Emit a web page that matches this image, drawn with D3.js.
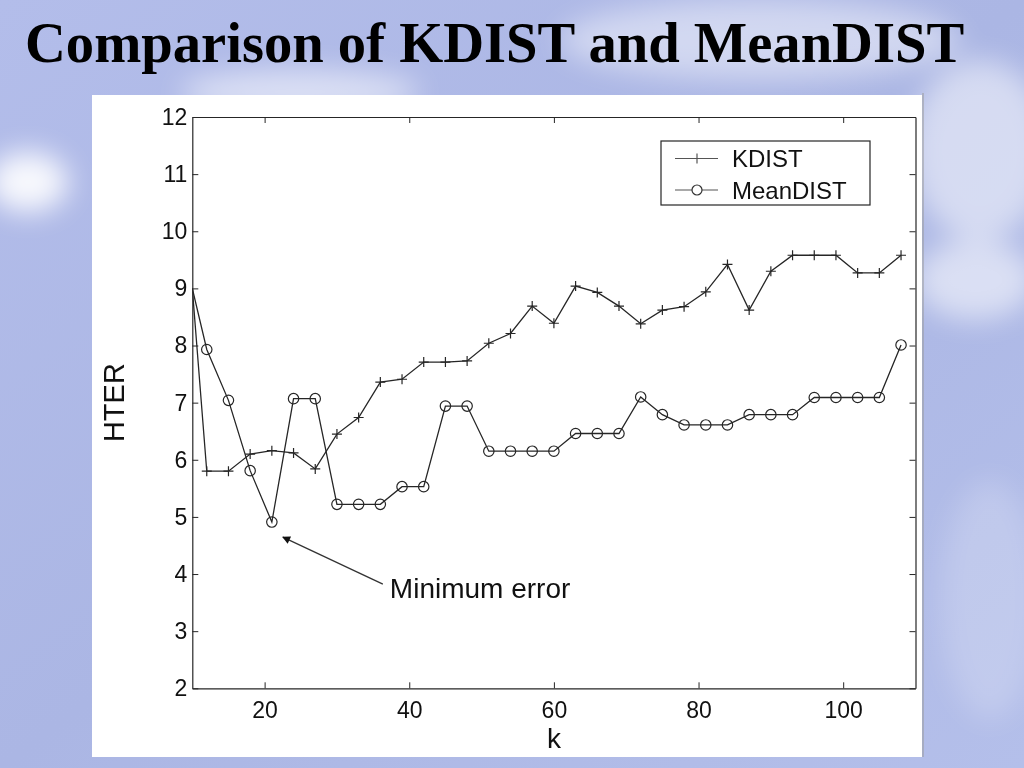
<!DOCTYPE html>
<html>
<head>
<meta charset="utf-8">
<script src="https://cdn.jsdelivr.net/npm/d3@7"></script>
<style>
  body { margin: 0; background: #aeb9e6; }
  svg { display: block; }
</style>
</head>
<body>
<div id="chart"></div>
<script>
// values
var kValues = [10, 12, 15, 18, 21, 24, 27, 30, 33, 36, 39, 42, 45, 48, 51, 54, 57,
    60, 63, 66, 69, 72, 75, 78, 81, 84, 87, 90, 93, 96, 99, 102, 105, 108];
var kdist = [9.0, 5.80, 5.80, 6.10, 6.16, 6.12, 5.84, 6.45, 6.74, 7.36, 7.41, 7.71, 7.71,
    7.73, 8.04, 8.21, 8.69, 8.39, 9.04, 8.93, 8.69, 8.38, 8.62, 8.68, 8.94, 9.42, 8.62,
    9.30, 9.58, 9.58, 9.58, 9.27, 9.27, 9.58];
var meandist = [9.0, 7.93, 7.04, 5.81, 4.91, 7.07, 7.07, 5.22, 5.22, 5.22, 5.53, 5.53,
    6.94, 6.94, 6.15, 6.15, 6.15, 6.15, 6.46, 6.46, 6.46, 7.10, 6.79, 6.61, 6.61, 6.61,
    6.79, 6.79, 6.79, 7.09, 7.09, 7.09, 7.09, 8.01];
var seriesNames = ["KDIST", "MeanDIST"];
var xTicks = [20, 40, 60, 80, 100];
var yTicks = [2, 3, 4, 5, 6, 7, 8, 9, 10, 11, 12];
var titleText = "Comparison of KDIST and MeanDIST";
var noteText = "Minimum error";

var W = 1024, H = 768;
var plotLeft = 192.3, plotRight = 915.5, plotTop = 117, plotBottom = 688.3;
var sans = "'Liberation Sans', Arial, Helvetica, sans-serif";
var ink = "#262626";

var svg = d3.select("#chart").append("svg")
    .attr("width", W)
    .attr("height", H);

var defs = svg.append("defs");

// sky background
var sky = defs.append("linearGradient").attr("id", "sky")
    .attr("x1", 0).attr("y1", 0).attr("x2", 1).attr("y2", 1);
sky.append("stop").attr("offset", "0%").attr("stop-color", "#b3bdea");
sky.append("stop").attr("offset", "50%").attr("stop-color", "#abb6e4");
sky.append("stop").attr("offset", "100%").attr("stop-color", "#b4bfea");
svg.append("rect").attr("width", W).attr("height", H).attr("fill", "url(#sky)");

defs.append("filter").attr("id", "soft")
    .attr("x", "-50%").attr("y", "-50%").attr("width", "200%").attr("height", "200%")
    .append("feGaussianBlur").attr("stdDeviation", 14);

var clouds = [
    {cx: 28, cy: 182, rx: 40, ry: 30, o: 0.9},
    {cx: 300, cy: 92, rx: 120, ry: 22, o: 0.55},
    {cx: 760, cy: 40, rx: 200, ry: 40, o: 0.45},
    {cx: 980, cy: 150, rx: 70, ry: 90, o: 0.5},
    {cx: 975, cy: 280, rx: 60, ry: 40, o: 0.55},
    {cx: 990, cy: 600, rx: 50, ry: 120, o: 0.2}
];
svg.append("g").attr("filter", "url(#soft)")
    .selectAll("ellipse").data(clouds).enter().append("ellipse")
    .attr("cx", function(d) { return d.cx; })
    .attr("cy", function(d) { return d.cy; })
    .attr("rx", function(d) { return d.rx; })
    .attr("ry", function(d) { return d.ry; })
    .attr("fill", "#ffffff")
    .attr("opacity", function(d) { return d.o; });

// title
svg.append("text")
    .attr("x", 25).attr("y", 62)
    .attr("font-family", "'Liberation Serif', 'Times New Roman', serif")
    .attr("font-weight", "bold")
    .attr("font-size", 56.6)
    .attr("fill", "#000")
    .text(titleText);

// white figure panel
svg.append("rect")
    .attr("x", 92).attr("y", 95)
    .attr("width", 830).attr("height", 662)
    .attr("fill", "#ffffff");
svg.append("line")
    .attr("x1", 923).attr("x2", 923).attr("y1", 93).attr("y2", 757)
    .attr("stroke", "#9a9a9a").attr("stroke-width", 1);

// scales
var x = d3.scaleLinear().domain([10, 110]).range([plotLeft, plotRight]);
var y = d3.scaleLinear().domain([2, 12]).range([plotBottom, plotTop]);

function styleAxis(g) {
    g.selectAll(".domain").attr("stroke", ink).attr("stroke-width", 1.2);
    g.selectAll(".tick line").attr("stroke", ink).attr("stroke-width", 1);
    g.selectAll("text").attr("font-family", sans).attr("font-size", 23).attr("fill", "#111");
}

svg.append("g")
    .attr("transform", "translate(0," + plotBottom + ")")
    .call(d3.axisBottom(x).tickValues(xTicks).tickSize(-6).tickSizeOuter(0).tickPadding(13))
    .call(styleAxis);
svg.append("g")
    .attr("transform", "translate(0," + plotTop + ")")
    .call(d3.axisTop(x).tickValues(xTicks).tickSize(-6).tickSizeOuter(0).tickFormat(""))
    .call(styleAxis);
svg.append("g")
    .attr("transform", "translate(" + plotLeft + ",0)")
    .call(d3.axisLeft(y).tickValues(yTicks).tickSize(-6).tickSizeOuter(0).tickPadding(5))
    .call(styleAxis);
svg.append("g")
    .attr("transform", "translate(" + plotRight + ",0)")
    .call(d3.axisRight(y).tickValues(yTicks).tickSize(-6).tickSizeOuter(0).tickFormat(""))
    .call(styleAxis);

// axis titles
svg.append("text")
    .attr("x", (plotLeft + plotRight) / 2).attr("y", 748)
    .attr("text-anchor", "middle")
    .attr("font-family", sans).attr("font-size", 28).attr("fill", "#111")
    .text("k");
svg.append("text")
    .attr("transform", "translate(124," + ((plotTop + plotBottom) / 2) + ") rotate(-90)")
    .attr("text-anchor", "middle")
    .attr("font-family", sans).attr("font-size", 29).attr("fill", "#111")
    .text("HTER");

// plot area clip
defs.append("clipPath").attr("id", "plotClip")
    .append("rect")
    .attr("x", plotLeft).attr("y", plotTop)
    .attr("width", plotRight - plotLeft).attr("height", plotBottom - plotTop);

var plot = svg.append("g").attr("clip-path", "url(#plotClip)");

function points(values) {
    return kValues.map(function(k, i) { return {k: k, v: values[i]}; });
}

var line = d3.line()
    .x(function(d) { return x(d.k); })
    .y(function(d) { return y(d.v); });

function plusPath(cx, cy, s) {
    return "M" + (cx - s) + "," + cy + "H" + (cx + s) + "M" + cx + "," + (cy - s) + "V" + (cy + s);
}

// the first sample sits on the left axis and shows no marker there
function marked(values) {
    return points(values).slice(1);
}

// KDIST
plot.append("path")
    .datum(points(kdist))
    .attr("fill", "none").attr("stroke", ink).attr("stroke-width", 1.3)
    .attr("d", line);
plot.selectAll(".plus").data(marked(kdist)).enter().append("path")
    .attr("class", "plus")
    .attr("d", function(d) { return plusPath(x(d.k), y(d.v), 5); })
    .attr("stroke", ink).attr("stroke-width", 1.2);

// MeanDIST
plot.append("path")
    .datum(points(meandist))
    .attr("fill", "none").attr("stroke", ink).attr("stroke-width", 1.3)
    .attr("d", line);
plot.selectAll(".ring").data(marked(meandist)).enter().append("circle")
    .attr("class", "ring")
    .attr("cx", function(d) { return x(d.k); })
    .attr("cy", function(d) { return y(d.v); })
    .attr("r", 5.2)
    .attr("fill", "none").attr("stroke", ink).attr("stroke-width", 1.2);

// annotation pointing at the smallest MeanDIST value
var minIdx = d3.minIndex(meandist);
var mx = x(kValues[minIdx]), my = y(meandist[minIdx]);
defs.append("marker").attr("id", "arrowHead")
    .attr("viewBox", "0 0 10 10").attr("refX", 9).attr("refY", 5)
    .attr("markerWidth", 11).attr("markerHeight", 8)
    .attr("markerUnits", "userSpaceOnUse")
    .attr("orient", "auto")
    .append("path").attr("d", "M0,0L10,5L0,10Z").attr("fill", "#111");
svg.append("line")
    .attr("x1", mx + 111).attr("y1", my + 62)
    .attr("x2", mx + 11).attr("y2", my + 15)
    .attr("stroke", "#333").attr("stroke-width", 1.3)
    .attr("marker-end", "url(#arrowHead)");
svg.append("text")
    .attr("x", mx + 118).attr("y", my + 76)
    .attr("font-family", sans).attr("font-size", 28).attr("fill", "#111")
    .text(noteText);

// legend
var legend = svg.append("g").attr("transform", "translate(661,141)");
legend.append("rect")
    .attr("width", 209).attr("height", 64)
    .attr("fill", "#fff").attr("stroke", ink).attr("stroke-width", 1.2);
var rows = legend.selectAll(".row").data(seriesNames).enter().append("g")
    .attr("transform", function(d, i) { return "translate(0," + (17.5 + i * 31.5) + ")"; });
rows.append("line")
    .attr("x1", 14).attr("x2", 57)
    .attr("stroke", "#555").attr("stroke-width", 1.2);
rows.filter(function(d, i) { return i === 0; }).append("path")
    .attr("d", plusPath(36, 0, 5)).attr("stroke", "#555").attr("stroke-width", 1.2);
rows.filter(function(d, i) { return i === 1; }).append("circle")
    .attr("cx", 36).attr("r", 5).attr("fill", "#fff").attr("stroke", "#333").attr("stroke-width", 1.2);
rows.append("text")
    .attr("x", 71).attr("dy", "0.36em")
    .attr("font-family", sans).attr("font-size", 24).attr("fill", "#111")
    .text(function(d) { return d; });
</script>
</body>
</html>
